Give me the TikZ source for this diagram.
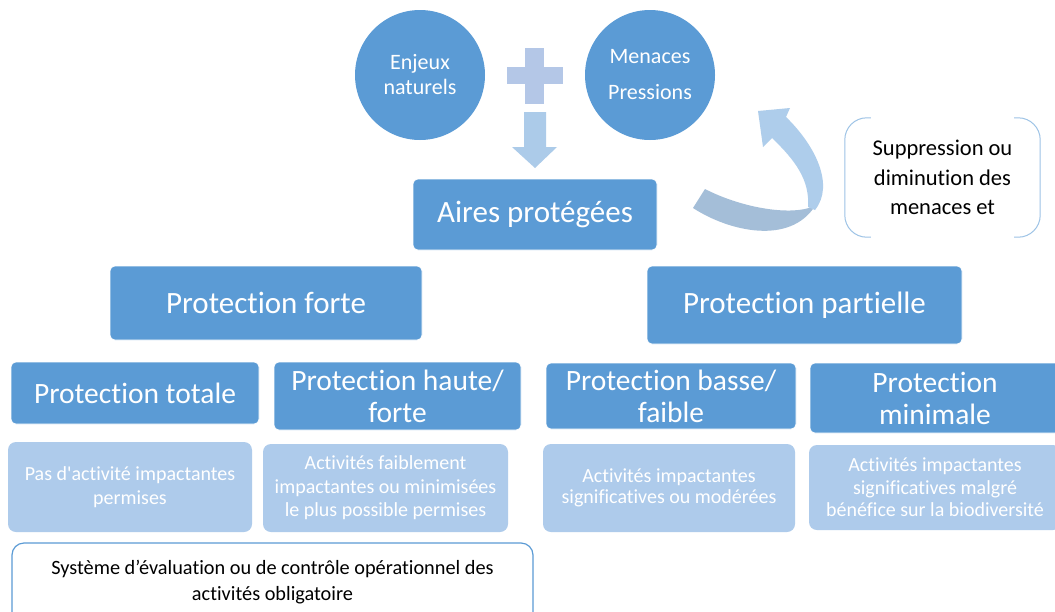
\documentclass[tikz,border=0pt]{standalone}
\usepackage{fontspec}
\setmainfont{Carlito}[RawFeature={-liga;-clig;-calt;-dlig}]
\usetikzlibrary{calc}
\definecolor{dblue}{HTML}{5B9BD5}
\definecolor{lblue}{HTML}{AECBEB}
\definecolor{plusc}{HTML}{B4C7E7}
\definecolor{arrc}{HTML}{ACCBE9}
\definecolor{ribdark}{HTML}{A4BED8}
\definecolor{riblight}{HTML}{AECDEB}
\definecolor{brk}{HTML}{9DC3E6}
\begin{document}
\begin{tikzpicture}[x=1pt,y=-1pt,
  darkbox/.style={fill=dblue, draw=white, line width=0.6pt, rounded corners=5pt, text=white, align=center, inner sep=0pt},
  lightbox/.style={fill=lblue, rounded corners=8pt, text=white, align=center, inner sep=0pt, font=\fontsize{20}{23.5}\selectfont},
  bubble/.style={circle, fill=dblue, minimum size=130pt, text=white, align=center, inner sep=0pt},
  bigfont/.style={font=\fontsize{31}{34}\selectfont},
  midfont/.style={font=\fontsize{29.5}{32}\selectfont},
  sysbox/.style={draw=dblue, line width=1.2pt, rounded corners=12pt, fill=white},
  bracketline/.style={draw=brk, line width=1pt, rounded corners=22pt}]
\clip (0,0) rectangle (1055,611);
\fill[white] (0,0) rectangle (1055,611);

% circles
\node[bubble, font=\fontsize{22}{25}\selectfont] (enjeux) at (420,75) {Enjeux\\naturels};
\node[bubble, font=\fontsize{22}{36}\selectfont] (menaces) at (650,75) {Menaces\\Pressions};

% plus sign
\fill[plusc] (525,48) rectangle (544,104);
\fill[plusc] (507,67) rectangle (563,84);

% down arrow
\fill[arrc] (524,112) -- (546,112) -- (546,147) -- (557,147) -- (535,168) -- (512,147) -- (524,147) -- cycle;

% main boxes
\node[darkbox, bigfont, minimum width=244pt, minimum height=71pt] (aires) at (535,214.5) {Aires protégées};
\node[darkbox, bigfont, minimum width=312pt, minimum height=74pt] (forte) at (266,303) {Protection forte};
\node[darkbox, bigfont, minimum width=315pt, minimum height=78pt] (partielle) at (804.5,305) {Protection partielle};

\node[darkbox, midfont, minimum width=248pt, minimum height=62pt] (totale) at (135,393) {Protection totale};
\node[darkbox, midfont, minimum width=247pt, minimum height=68pt] (haute) at (397.5,396) {Protection haute/\\forte};
\node[darkbox, midfont, minimum width=250pt, minimum height=66pt] (basse) at (671,396) {Protection basse/\\faible};
\node[darkbox, midfont, minimum width=250pt, minimum height=70pt] (minimale) at (935,398) {Protection\\minimale};

\node[lightbox, minimum width=244pt, minimum height=90pt] (pas) at (130,487) {Pas d\textquotesingle activité impactantes\\permises};
\node[lightbox, minimum width=245pt, minimum height=88pt] (faib) at (385.5,488) {Activités faiblement\\impactantes ou minimisées\\le plus possible permises};
\node[lightbox, minimum width=252pt, minimum height=88pt, font=\fontsize{20}{21.5}\selectfont] (mod) at (669,488) {Activités impactantes\\significatives ou modérées};
\node[lightbox, minimum width=252pt, minimum height=85pt, font=\fontsize{20}{22.5}\selectfont] (minl) at (935,487.5) {Activités impactantes\\significatives malgré\\bénéfice sur la biodiversité};

% bottom box
\draw[sysbox] (12,543) rectangle (533,660);
\node[font=\fontsize{20.3}{26}\selectfont, align=center] (sys) at (272.5,582) {Système d’évaluation ou de contrôle opérationnel des\\activités obligatoire};

% right bracket box
\node[font=\fontsize{22.5}{29.5}\selectfont, align=center, minimum width=195pt, minimum height=119pt, inner sep=0pt] (supp) at (942.5,177.5) {Suppression ou\\diminution des\\menaces et};
\draw[bracketline] ($(supp.north west)+(26,0)$) -- (supp.north west) -- (supp.south west) -- ($(supp.south west)+(26,0)$);
\draw[bracketline] ($(supp.north east)+(-26,0)$) -- (supp.north east) -- (supp.south east) -- ($(supp.south east)+(-26,0)$);

% curved arrow (ribbon)
\fill[ribdark] (693,208) -- (705,189) .. controls (740,207) and (785,215) .. (809,208)
  -- (815,206) .. controls (790,245) and (730,232) .. (693,208) -- cycle;
\fill[riblight] (808,207) .. controls (810,180) and (795,160) .. (772,138) -- (763,147) -- (758,111) -- (790,108) -- (786,117)
  .. controls (815,145) and (835,185) .. (815,210) -- cycle;
\end{tikzpicture}
\end{document}
